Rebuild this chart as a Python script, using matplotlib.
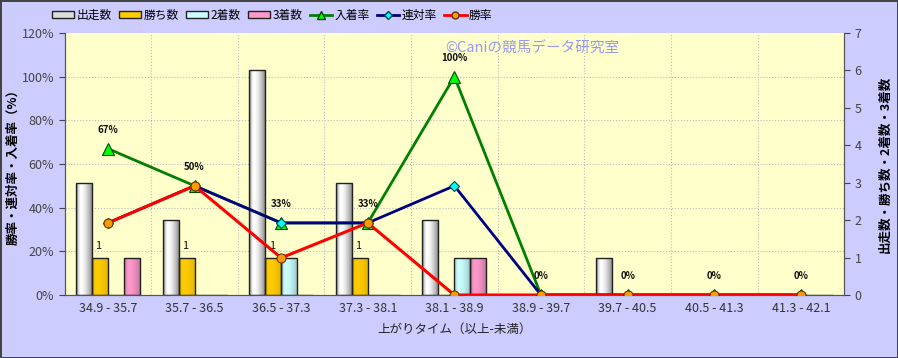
import numpy as np
import matplotlib
matplotlib.use("Agg")
import matplotlib.pyplot as plt
from matplotlib.patches import Patch
from matplotlib.lines import Line2D
from matplotlib.colors import to_rgb

plt.rcParams['font.family'] = ['Noto Sans CJK JP', 'DejaVu Sans']

categories = ["34.9 - 35.7", "35.7 - 36.5", "36.5 - 37.3", "37.3 - 38.1", "38.1 - 38.9",
              "38.9 - 39.7", "39.7 - 40.5", "40.5 - 41.3", "41.3 - 42.1"]
runs = [3, 2, 6, 3, 2, 0, 1, 0, 0]          # 出走数
wins = [1, 1, 1, 1, 0, 0, 0, 0, 0]          # 勝ち数
seconds = [0, 0, 1, 0, 1, 0, 0, 0, 0]       # 2着数
thirds = [1, 0, 0, 0, 1, 0, 0, 0, 0]        # 3着数
place_rate = [67, 50, 33, 33, 100, 0, 0, 0, 0]   # 入着率
quinella_rate = [33, 50, 33, 33, 50, 0, 0, 0, 0] # 連対率
win_rate = [33, 50, 17, 33, 0, 0, 0, 0, 0]       # 勝率
place_labels = ["67%", "50%", "33%", "33%", "100%", "0%", "0%", "0%", "0%"]
left_ticks = [0, 20, 40, 60, 80, 100, 120]
left_ticklabels = ["0%", "20%", "40%", "60%", "80%", "100%", "120%"]
right_ticks = [0, 1, 2, 3, 4, 5, 6, 7]

fig = plt.figure(figsize=(8.98, 3.58), dpi=100)
fig.patch.set_facecolor('#CCCCFF')
fig.patch.set_edgecolor('#444444')
fig.patch.set_linewidth(2)

ax = fig.add_axes([0.072, 0.176, 0.868, 0.732])
ax.set_facecolor('#FFFFCC')
ax2 = ax.twinx()
x = np.arange(len(categories))
w = 0.185

def shade_img(color, amp):
    t = np.linspace(0, 1, 64)
    f = np.where(t < 0.3, 1 - amp * ((0.3 - t) / 0.3) ** 2,
                 1 - amp * 0.85 * ((t - 0.3) / 0.7) ** 1.6)
    c = np.array(to_rgb(color))
    img = np.clip(c[None, :] * f[:, None], 0, 1)
    return img[None, :, :]

bar_series = [(runs, '#FFFFFF', 0.6), (wins, '#FFCC00', 0.15),
              (seconds, '#CCFFFF', 0.3), (thirds, '#FF99CC', 0.3)]
for i, (vals, col, amp) in enumerate(bar_series):
    bars = ax.bar(x + (i - 1.5) * w, vals, w, facecolor='none', edgecolor='#222222',
                  linewidth=1.0, zorder=3)
    img = shade_img(col, amp)
    for p in bars.patches:
        if p.get_height() <= 0:
            continue
        bx, by = p.get_x(), p.get_y()
        im = ax.imshow(img, extent=[bx, bx + p.get_width(), by, by + p.get_height()],
                       aspect='auto', zorder=2.5, interpolation='bilinear')
        im.set_clip_path(p)
    if i == 1:
        for p, v in zip(bars.patches, vals):
            if v > 0:
                ax.annotate(str(v), (p.get_x() + p.get_width() / 2, v), xytext=(-1, 5),
                            textcoords='offset points', ha='center', va='bottom',
                            fontsize=8, color='#111111', zorder=6)

ax.set_xlim(-0.5, len(categories) - 0.5)
ax.set_ylim(0, 7)
ax.set_yticks(right_ticks)
ax.yaxis.tick_right()
ax.yaxis.set_label_position('right')
ax.set_ylabel('出走数・勝ち数・2着数・3着数', fontsize=9, fontweight='bold', labelpad=12)
ax.set_xticks(x)
ax.set_xticklabels(categories, fontsize=9, color='#333333')
ax.set_xticks(np.arange(len(categories) - 1) + 0.5, minor=True)
ax.tick_params(axis='x', which='both', length=0, pad=5)
ax.tick_params(axis='y', labelsize=9, labelcolor='#444444', color='#444444', length=4)
ax.set_xlabel('上がりタイム（以上-未満）', fontsize=9, color='#222222', labelpad=6)
ax.grid(axis='x', which='minor', color='#BBBBBB', linestyle=':', linewidth=0.8)
ax.set_axisbelow(True)

ax2.yaxis.tick_left()
ax2.yaxis.set_label_position('left')
ax2.set_ylim(0, 120)
ax2.set_yticks(left_ticks)
ax2.set_yticklabels(left_ticklabels)
ax2.tick_params(axis='y', labelsize=9, labelcolor='#444444', color='#444444', length=4)
ax2.set_ylabel('勝率・連対率・入着率（%）', fontsize=9, fontweight='bold')
ax2.yaxis.set_label_coords(-0.058, 0.5)
for yv in left_ticks[1:-1]:
    ax.axhline(yv * 7 / 120, color='#BBBBBB', linestyle=':', linewidth=0.8, zorder=1)

for a in (ax, ax2):
    a.spines['top'].set_visible(False)
    for s in ('left', 'right', 'bottom'):
        a.spines[s].set_color('#555555')

ax2.plot(x, place_rate, color='#008000', lw=2, marker='^', ms=8, mfc='#00FF00',
         mec='#004400', mew=0.8, zorder=4)
ax2.plot(x, quinella_rate, color='#000080', lw=2, marker='D', ms=5, mfc='#00FFFF',
         mec='#004444', mew=0.8, zorder=5)
ax2.plot(x, win_rate, color='#FF0000', lw=2.2, marker='o', ms=6.5, mfc='#FF9900',
         mec='#663300', mew=0.8, zorder=6)
for xi, v, lab in zip(x, place_rate, place_labels):
    ax2.annotate(lab, (xi, v), xytext=(0, 10), textcoords='offset points',
                 ha='center', va='bottom', fontsize=7, fontweight='bold',
                 color='#111111', zorder=7)

ax2.text(0.488, 0.94, '©Caniの競馬データ研究室', transform=ax2.transAxes,
         fontsize=10.5, color='#9999EE', ha='left', va='center', zorder=8)

handles = [
    Patch(facecolor='#DDDDDD', edgecolor='#222222', label='出走数'),
    Patch(facecolor='#FFCC00', edgecolor='#222222', label='勝ち数'),
    Patch(facecolor='#CCFFFF', edgecolor='#222222', label='2着数'),
    Patch(facecolor='#FF99CC', edgecolor='#222222', label='3着数'),
    Line2D([], [], color='#008000', lw=2, marker='^', ms=6, mfc='#00FF00', mec='#004400', label='入着率'),
    Line2D([], [], color='#000080', lw=2, marker='D', ms=4, mfc='#00FFFF', mec='#004444', label='連対率'),
    Line2D([], [], color='#FF0000', lw=2, marker='o', ms=5, mfc='#FF9900', mec='#663300', label='勝率'),
]
fig.legend(handles=handles, loc='center', bbox_to_anchor=(0.303, 0.957), ncol=7,
           frameon=False, fontsize=8.5, handlelength=1.9, handleheight=0.5,
           handletextpad=0.2, columnspacing=0.6, borderpad=0.1)

fig.savefig('out.png', dpi=100, facecolor=fig.get_facecolor(), edgecolor=fig.get_edgecolor())
